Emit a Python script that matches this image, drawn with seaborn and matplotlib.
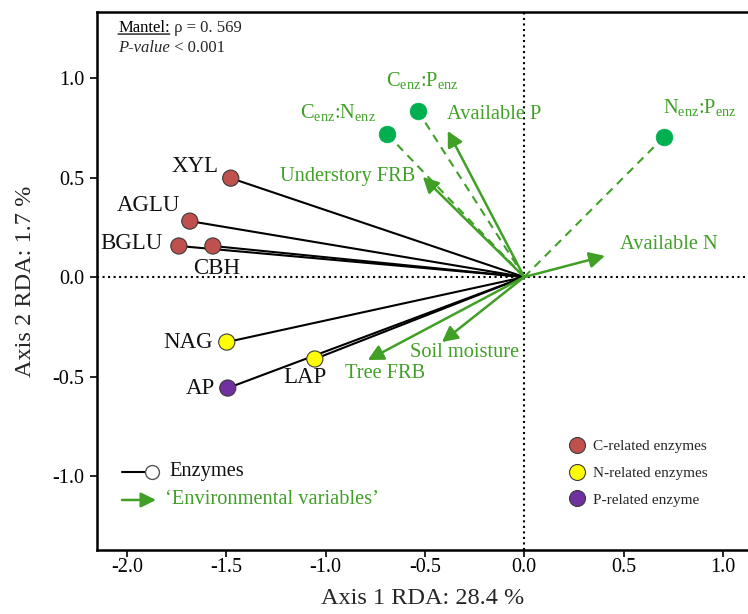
import matplotlib
matplotlib.use("Agg")
import matplotlib.pyplot as plt
import seaborn as sns
import pandas as pd
from matplotlib.lines import Line2D

# ---------------- data ----------------
enzymes = ["XYL", "AGLU", "BGLU", "CBH", "NAG", "LAP", "AP"]
enz_axis1 = [-1.477, -1.683, -1.738, -1.567, -1.497, -1.054, -1.492]
enz_axis2 = [0.497, 0.281, 0.156, 0.156, -0.327, -0.412, -0.558]
enz_group = ["C-related enzymes"] * 4 + ["N-related enzymes"] * 2 + ["P-related enzyme"]

ratios = [r"C$_{\mathrm{enz}}$:N$_{\mathrm{enz}}$",
          r"C$_{\mathrm{enz}}$:P$_{\mathrm{enz}}$",
          r"N$_{\mathrm{enz}}$:P$_{\mathrm{enz}}$"]
ratio_axis1 = [-0.691, -0.535, 0.703]
ratio_axis2 = [0.719, 0.834, 0.704]

env_vars = ["Available P", "Understory FRB", "Available N", "Soil moisture", "Tree FRB"]
env_axis1 = [-0.385, -0.510, 0.406, -0.414, -0.787]
env_axis2 = [0.734, 0.503, 0.106, -0.327, -0.417]

xticks = [-2.0, -1.5, -1.0, -0.5, 0.0, 0.5, 1.0]
yticks = [-1.0, -0.5, 0.0, 0.5, 1.0]
xlabel = "Axis 1 RDA: 28.4 %"
ylabel = "Axis 2 RDA: 1.7 %"

# ---------------- styles ----------------
group_colors = {"C-related enzymes": "#C0504D",
                "N-related enzymes": "#FFFF00",
                "P-related enzyme": "#7030A0"}
green = "#40A026"
point_green = "#00B050"

# label offsets (pixels) and alignment
enz_label_style = {
    "XYL": (-12, 12, "right"), "AGLU": (-10, 16, "right"), "BGLU": (-16, 2, "right"),
    "CBH": (4, -23, "center"), "NAG": (-14, 0, "right"), "LAP": (-10, -19, "center"),
    "AP": (-13, 0, "right"),
}
ratio_label_style = [(-49, 21, "center"), (4, 31, "center"), (36, 29, "center")]
env_label_style = [(-1, 16, "left"), (-8, 0, "right"), (15, 11, "left"),
                   (23, -10, "center"), (17, -14, "center")]

sns.set_theme(style="ticks")
plt.rcParams["font.family"] = ["Liberation Serif", "DejaVu Serif"]
plt.rcParams["mathtext.fontset"] = "custom"
plt.rcParams["mathtext.rm"] = "Liberation Serif"
plt.rcParams["mathtext.it"] = "Liberation Serif:italic"
plt.rcParams["mathtext.bf"] = "Liberation Serif:bold"

W, H = 748, 614
fig = plt.figure(figsize=(W / 100, H / 100), dpi=100)
ax = fig.add_axes([97 / W, 64 / H, 651 / W, 538 / H])
ax.set_xlim(-2.150, 1.126)
ax.set_ylim(-1.372, 1.332)

enz_df = pd.DataFrame({"enzyme": enzymes, "axis1": enz_axis1, "axis2": enz_axis2, "group": enz_group})
ratio_df = pd.DataFrame({"ratio": ratios, "axis1": ratio_axis1, "axis2": ratio_axis2})
env_df = pd.DataFrame({"var": env_vars, "axis1": env_axis1, "axis2": env_axis2})

# reference lines
ax.axhline(0, color="black", ls=":", lw=1.5, zorder=1)
ax.axvline(0, color="black", ls=":", lw=1.5, zorder=1)

# enzyme vectors
for _, r in enz_df.iterrows():
    ax.plot([0, r.axis1], [0, r.axis2], color="black", lw=1.5, zorder=2,
            solid_capstyle="butt")

# ratio dashed vectors
for _, r in ratio_df.iterrows():
    ax.plot([0, r.axis1], [0, r.axis2], color=green, lw=1.5, ls=(0, (4, 3)), zorder=2)

# environmental arrows
for _, r in env_df.iterrows():
    ax.annotate("", xy=(r.axis1, r.axis2), xytext=(0, 0),
                arrowprops=dict(arrowstyle="-|>,head_length=0.62,head_width=0.32",
                                color=green, lw=1.8, shrinkA=0, shrinkB=0,
                                mutation_scale=15), zorder=3)

sns.scatterplot(data=enz_df, x="axis1", y="axis2", hue="group", palette=group_colors,
                s=135, edgecolor="#3a3a3a", linewidth=0.8, legend=False, ax=ax, zorder=5)
sns.scatterplot(data=ratio_df, x="axis1", y="axis2", color=point_green,
                s=145, edgecolor=point_green, linewidth=0.5, legend=False, ax=ax, zorder=5)

# labels
for _, r in enz_df.iterrows():
    dx, dy, ha = enz_label_style[r.enzyme]
    ax.annotate(r.enzyme, (r.axis1, r.axis2), xytext=(dx, dy), textcoords="offset pixels",
                ha=ha, va="center", fontsize=16.5, color="#111111", zorder=6)
for (_, r), (dx, dy, ha) in zip(ratio_df.iterrows(), ratio_label_style):
    ax.annotate(r.ratio, (r.axis1, r.axis2), xytext=(dx, dy), textcoords="offset pixels",
                ha=ha, va="center", fontsize=14.7, color=green, zorder=6)
for (_, r), (dx, dy, ha) in zip(env_df.iterrows(), env_label_style):
    ax.annotate(r["var"], (r.axis1, r.axis2), xytext=(dx, dy), textcoords="offset pixels",
                ha=ha, va="center", fontsize=14.7, color=green, zorder=6)

# Mantel annotation
t1 = ax.text(0.0323, 0.970, "Mantel:", transform=ax.transAxes, fontsize=12,
             ha="left", va="center", color="black")
ax.annotate("", xy=(1, 0.13), xycoords=t1, xytext=(0, 0.13), textcoords=t1,
            arrowprops=dict(arrowstyle="-", lw=0.9, color="black", shrinkA=0, shrinkB=0))
ax.annotate(" ρ = 0. 569", xy=(1, 0), xycoords=t1, ha="left", va="bottom", fontsize=12)
t2 = ax.text(0.0323, 0.933, "P-value", transform=ax.transAxes, fontsize=12,
             ha="left", va="center", style="italic")
ax.annotate(" < 0.001", xy=(1, 0), xycoords=t2, ha="left", va="bottom", fontsize=12)

# left legend (drawn in axes fraction)
ax.plot([0.0384, 0.0845], [0.145, 0.145], color="black", lw=1.5, transform=ax.transAxes,
        zorder=6)
ax.plot([0.0845], [0.145], marker="o", ms=10, mfc="white", mec="#555555", mew=1.0,
        transform=ax.transAxes, zorder=7)
ax.text(0.112, 0.145, "Enzymes", transform=ax.transAxes, fontsize=14.7, ha="left",
        va="center", color="#111111")
ax.annotate("", xy=(0.0906, 0.093), xytext=(0.0384, 0.093), xycoords="axes fraction",
            arrowprops=dict(arrowstyle="-|>,head_length=0.6,head_width=0.3", color=green,
                            lw=1.8, shrinkA=0, shrinkB=0, mutation_scale=15))
ax.text(0.1045, 0.093, "\u2018Environmental variables\u2019", transform=ax.transAxes,
        fontsize=14.7, ha="left", va="center", color=green)

# right legend
handles = [Line2D([], [], ls="", marker="o", ms=11.5, mfc=group_colors[g], mec="#3a3a3a",
                  mew=0.8, label=g) for g in group_colors]
ax.legend(handles=handles, loc="center left", bbox_to_anchor=(568 / W, 1 - 473 / H),
          bbox_transform=fig.transFigure, frameon=False, fontsize=11, borderpad=0,
          borderaxespad=0, handlelength=1.2, handletextpad=0.45, labelspacing=0.85)

# axes cosmetics
ax.set_xticks(xticks)
ax.set_yticks(yticks)
ax.set_xticklabels([f"{v:.1f}" for v in xticks])
ax.set_yticklabels([f"{v:.1f}" for v in yticks])
ax.tick_params(axis="both", direction="out", length=5, width=1.2, labelsize=14.5,
               colors="black")
ax.tick_params(axis="x", pad=1)
ax.tick_params(axis="y", pad=4)
ax.set_xlabel(xlabel, fontsize=17.5, labelpad=8)
ax.set_ylabel(ylabel, fontsize=17.5, labelpad=12)
for s in ["left", "bottom", "top"]:
    ax.spines[s].set_linewidth(1.8)
    ax.spines[s].set_color("black")
ax.spines["right"].set_visible(False)
ax.grid(False)

fig.savefig("out.png", dpi=100)
